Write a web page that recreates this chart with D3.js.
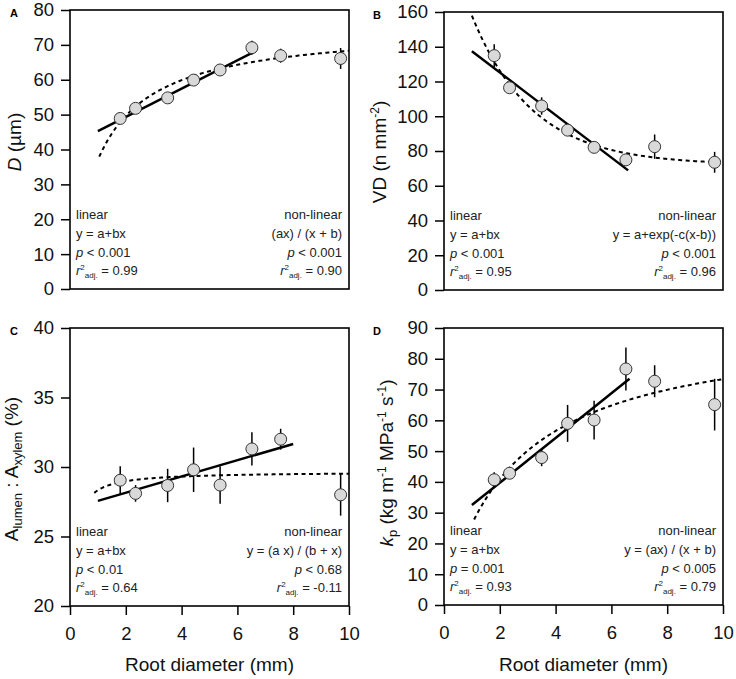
<!DOCTYPE html>
<html>
<head>
<meta charset="utf-8">
<script src="https://cdn.jsdelivr.net/npm/d3@7"></script>
<style>
  body { margin: 0; background: #fff; }
  svg { font-family: "Liberation Sans", Arial, sans-serif; }
  .tick text { font-size: 18.5px; fill: #111; }
  .note { font-size: 13px; fill: #222; }
  .title { font-size: 19px; fill: #111; }
  .panel-label { font-size: 11px; font-weight: bold; }
</style>
</head>
<body>
<svg id="chart" width="736" height="679"></svg>
<script>
// root diameter classes (mm), shared by all panels
const rootDiameter = [1.8, 2.35, 3.5, 4.43, 5.38, 6.52, 7.55, 9.7];

const vesselDiameter = [48.9, 51.8, 54.8, 59.9, 62.8, 69.2, 66.9, 66.1];
const vesselDiameterErr = [1.0, 1.2, 1.0, 1.3, 1.2, 2.0, 2.0, 3.0];

const vesselDensity = [134.9, 116.4, 105.9, 92.0, 82.1, 74.9, 82.5, 73.5];
const vesselDensityErr = [6.5, 2.0, 5.0, 2.5, 1.5, 1.5, 7.0, 6.0];

const lumenRatio = [29.05, 28.1, 28.67, 29.8, 28.7, 31.3, 32.0, 28.0];
const lumenRatioErr = [1.0, 0.6, 1.2, 1.6, 1.35, 1.2, 0.75, 1.5];

const kp = [40.7, 42.8, 47.9, 59.0, 60.1, 76.7, 72.7, 65.1];
const kpErr = [2.4, 1.3, 2.8, 6.0, 6.3, 7.0, 5.2, 8.4];

// fitted parameters
const linearA = [41.2, 4.06], linearB = [149.7, -12.25], linearC = [26.98, 0.585], linearD = [25.2, 7.26];
const linearRangeA = [1.0, 6.65], linearRangeB = [1.0, 6.6], linearRangeC = [1.0, 8.0], linearRangeD = [1.0, 6.65];
const hyperA = [75.4, 1.037], expB = [72, 10.68, 0.46], hyperC = [29.66, 0.047], hyperD = [91.6, 2.48];
const curveRangeA = [1.05, 10], curveRangeB = [1.0, 10], curveRangeC = [0.87, 10], curveRangeD = [1.08, 10];

const xTicks = [0, 2, 4, 6, 8, 10];
const yTicksA = d3.range(0, 81, 10);
const yTicksB = d3.range(0, 161, 20);
const yTicksC = d3.range(20, 41, 5);
const yTicksD = d3.range(0, 91, 10);

const svg = d3.select("#chart");

function drawPanel(p) {
  let x = d3.scaleLinear().domain([0, 10]).range([p.x0, p.x1]);
  let y = d3.scaleLinear().domain(p.yDomain).range([p.y1, p.y0]);
  let g = svg.append("g");

  g.append("g")
      .attr("transform", "translate(" + p.x0 + ",0)")
      .call(d3.axisLeft(y).tickValues(p.yTicks).tickSize(9).tickPadding(7))
      .call(a => a.select(".domain").remove())
      .call(a => a.selectAll("line").attr("stroke", "#000").attr("stroke-width", 1.5));

  if (p.xAxis) {
    g.append("g")
        .attr("transform", "translate(0," + p.y1 + ")")
        .call(d3.axisBottom(x).tickValues(xTicks).tickSize(9).tickPadding(12))
        .call(a => a.select(".domain").remove())
        .call(a => a.selectAll("line").attr("stroke", "#000").attr("stroke-width", 1.5));

    g.append("text")
        .attr("class", "title")
        .attr("x", (p.x0 + p.x1) / 2)
        .attr("y", 671)
        .attr("text-anchor", "middle")
        .text("Root diameter (mm)");
  }

  g.append("rect")
      .attr("x", p.x0).attr("y", p.y0)
      .attr("width", p.x1 - p.x0).attr("height", p.y1 - p.y0)
      .attr("fill", "none").attr("stroke", "#000").attr("stroke-width", 1.6);

  // y title
  let t = g.append("text")
      .attr("class", "title")
      .attr("text-anchor", "middle")
      .attr("transform", "translate(" + p.titleX + "," + p.titleY + ") rotate(-90)");
  p.title(t);

  // fitted lines
  let line = d3.line().x(d => x(d[0])).y(d => y(d[1]));
  let lin = p.linearRange.map(v => [v, p.linear[0] + p.linear[1] * v]);
  g.append("path").datum(lin).attr("d", line)
      .attr("fill", "none").attr("stroke", "#000").attr("stroke-width", 2.5);

  let xs = d3.range(p.curveRange[0], p.curveRange[1], 0.05).concat([p.curveRange[1]]);
  g.append("path").datum(xs.map(v => [v, p.curve(v)])).attr("d", line)
      .attr("fill", "none").attr("stroke", "#000").attr("stroke-width", 2)
      .attr("stroke-dasharray", "4,3.5");

  // error bars then points
  let pts = rootDiameter.map((d, i) => ({x: d, y: p.values[i], e: p.errors[i]}));
  g.selectAll(".err").data(pts).enter().append("line")
      .attr("x1", d => x(d.x)).attr("x2", d => x(d.x))
      .attr("y1", d => y(d.y - d.e)).attr("y2", d => y(d.y + d.e))
      .attr("stroke", "#000").attr("stroke-width", 1.5);
  g.selectAll(".pt").data(pts).enter().append("circle")
      .attr("cx", d => x(d.x)).attr("cy", d => y(d.y)).attr("r", 6)
      .attr("fill", "#d9d9d9").attr("stroke", "#333").attr("stroke-width", 1);

  // annotations
  let offs = [70, 51, 32, 14];
  [["left", p.x0 + 6, "start"], ["right", p.x1 - 7, "end"]].forEach(([side, tx, anchor]) => {
    let n = p.notes[side];
    g.append("text").attr("class", "note").attr("x", tx).attr("y", p.y1 - offs[0])
        .attr("text-anchor", anchor).text(n[0]);
    g.append("text").attr("class", "note").attr("x", tx).attr("y", p.y1 - offs[1])
        .attr("text-anchor", anchor).text(n[1]);
    let pt = g.append("text").attr("class", "note").attr("x", tx).attr("y", p.y1 - offs[2])
        .attr("text-anchor", anchor);
    pt.append("tspan").attr("font-style", "italic").text("p");
    pt.append("tspan").text(" " + n[2]);
    let rt = g.append("text").attr("class", "note").attr("x", tx).attr("y", p.y1 - offs[3])
        .attr("text-anchor", anchor);
    rt.append("tspan").attr("font-style", "italic").text("r");
    rt.append("tspan").attr("font-size", "8px").attr("dy", -5).text("2");
    rt.append("tspan").attr("font-size", "8px").attr("dy", 8).text("adj.");
    rt.append("tspan").attr("dy", -3).text(" " + n[3]);
  });

  g.append("text").attr("class", "panel-label")
      .attr("x", p.labelX).attr("y", p.y0 + 7).text(p.label);
}

drawPanel({
  label: "A", labelX: 10, x0: 70, x1: 349, y0: 10, y1: 289,
  yDomain: [0, 80], yTicks: yTicksA, xAxis: false,
  values: vesselDiameter, errors: vesselDiameterErr,
  linear: linearA, linearRange: linearRangeA,
  curve: v => hyperA[0] * v / (v + hyperA[1]), curveRange: curveRangeA,
  titleX: 21, titleY: 142,
  title: t => {
    t.append("tspan").attr("font-style", "italic").text("D");
    t.append("tspan").text(" (µm)");
  },
  notes: {
    left: ["linear", "y = a+bx", "< 0.001", "= 0.99"],
    right: ["non-linear", "(ax) / (x + b)", "< 0.001", "= 0.90"]
  }
});

drawPanel({
  label: "B", labelX: 373, x0: 444, x1: 723, y0: 12, y1: 290,
  yDomain: [0, 160], yTicks: yTicksB, xAxis: false,
  values: vesselDensity, errors: vesselDensityErr,
  linear: linearB, linearRange: linearRangeB,
  curve: v => expB[0] + Math.exp(-expB[2] * (v - expB[1])), curveRange: curveRangeB,
  titleX: 386, titleY: 152,
  title: t => {
    t.append("tspan").text("VD (n mm");
    t.append("tspan").attr("font-size", "12px").attr("dy", -7).text("-2");
    t.append("tspan").attr("dy", 7).text(")");
  },
  notes: {
    left: ["linear", "y = a+bx", "< 0.001", "= 0.95"],
    right: ["non-linear", "y = a+exp(-c(x-b))", "< 0.001", "= 0.96"]
  }
});

drawPanel({
  label: "C", labelX: 10, x0: 70, x1: 349, y0: 328, y1: 606,
  yDomain: [20, 40], yTicks: yTicksC, xAxis: true,
  values: lumenRatio, errors: lumenRatioErr,
  linear: linearC, linearRange: linearRangeC,
  curve: v => hyperC[0] * v / (hyperC[1] + v), curveRange: curveRangeC,
  titleX: 18, titleY: 469,
  title: t => {
    t.append("tspan").text("A");
    t.append("tspan").attr("font-size", "13px").attr("dy", 4).text("lumen");
    t.append("tspan").attr("dy", -4).text(" : A");
    t.append("tspan").attr("font-size", "13px").attr("dy", 4).text("xylem");
    t.append("tspan").attr("dy", -4).text(" (%)");
  },
  notes: {
    left: ["linear", "y = a+bx", "< 0.01", "= 0.64"],
    right: ["non-linear", "y = (a x) / (b + x)", "< 0.68", "= -0.11"]
  }
});

drawPanel({
  label: "D", labelX: 373, x0: 444, x1: 723, y0: 328, y1: 605,
  yDomain: [0, 90], yTicks: yTicksD, xAxis: true,
  values: kp, errors: kpErr,
  linear: linearD, linearRange: linearRangeD,
  curve: v => hyperD[0] * v / (v + hyperD[1]), curveRange: curveRangeD,
  titleX: 393, titleY: 463,
  title: t => {
    t.append("tspan").attr("font-style", "italic").text("k");
    t.append("tspan").attr("font-size", "13px").attr("dy", 4).text("p");
    t.append("tspan").attr("dy", -4).text(" (kg m");
    t.append("tspan").attr("font-size", "12px").attr("dy", -7).text("-1");
    t.append("tspan").attr("dy", 7).text(" MPa");
    t.append("tspan").attr("font-size", "12px").attr("dy", -7).text("-1");
    t.append("tspan").attr("dy", 7).text(" s");
    t.append("tspan").attr("font-size", "12px").attr("dy", -7).text("-1");
    t.append("tspan").attr("dy", 7).text(")");
  },
  notes: {
    left: ["linear", "y = a+bx", "= 0.001", "= 0.93"],
    right: ["non-linear", "y = (ax) / (x + b)", "< 0.005", "= 0.79"]
  }
});
</script>
</body>
</html>
